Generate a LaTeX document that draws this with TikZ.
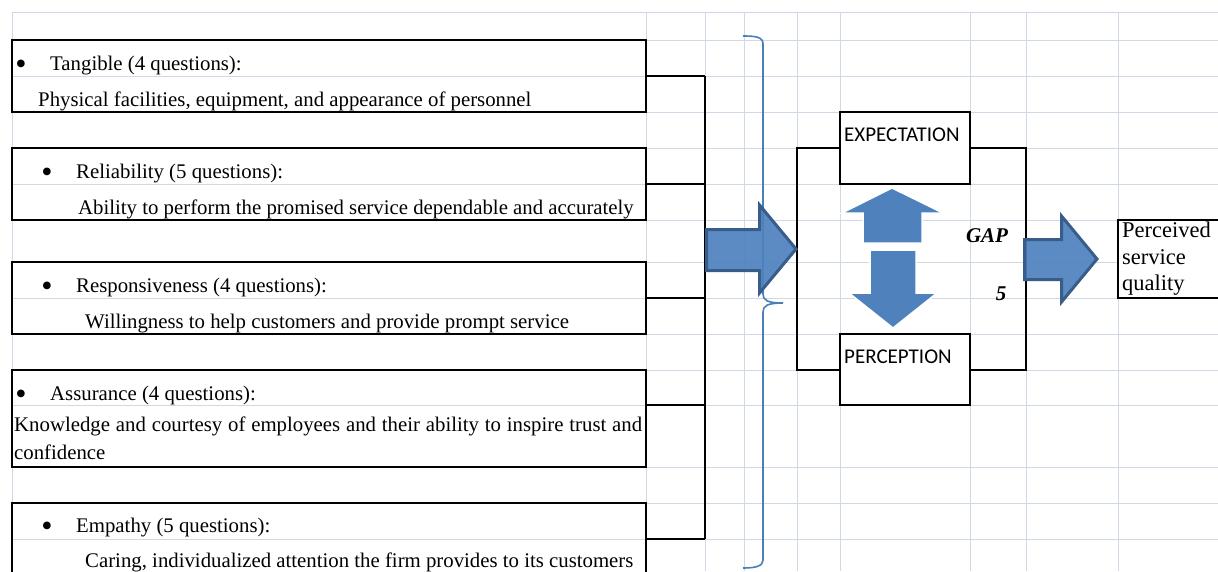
\documentclass[tikz,border=0pt]{standalone}
\usepackage{fontspec}
\setmainfont{Liberation Serif}
\newfontfamily\calib{Carlito}
\definecolor{gridc}{HTML}{D0D7E5}
\definecolor{afill}{HTML}{4F81BD}
\definecolor{aedge}{HTML}{385D8A}
\definecolor{brc}{HTML}{4A7EBB}
\begin{document}
\begin{tikzpicture}[x=1pt,y=-1pt,
  gridln/.style={draw=gridc, line width=1pt},
  bx/.style={draw=black, line width=1.3pt, inner sep=0pt, outer sep=0pt},
  conn/.style={draw=black, line width=1.3pt},
  txt/.style={anchor=base west, inner sep=0pt, font=\fontsize{20.8}{24}\selectfont},
  bul/.style={anchor=center, inner sep=0pt, font=\fontsize{32}{36}\selectfont},
  lbl/.style={anchor=west, inner sep=0pt, font=\calib\fontsize{21}{24}\selectfont},
  bigarrow/.style={fill=afill, fill opacity=0.92, draw=aedge, line width=3pt, line join=miter},
  gaparrow/.style={fill=afill, draw=white, line width=1.5pt, line join=miter},
  pqtxt/.style={anchor=base west, inner sep=0pt, font=\fontsize{22.5}{27}\selectfont},
  gaptxt/.style={inner sep=0pt, font=\bfseries\itshape\fontsize{21}{24}\selectfont}]
\useasboundingbox (0,0) rectangle (1218,571);
\fill[white] (0,0) rectangle (1218,571);
% spreadsheet grid
\foreach \y in {12,40,76,112,148,184,220,262,298,334,370,405,467,503,539}
  \draw[gridln] (12,\y) -- (1218,\y);
\foreach \x in {12,646,705,744,797,840,970,1026,1118}
  \draw[gridln] (\x,12) -- (\x,571);
% left boxes
\node[bx, minimum width=634pt, minimum height=72pt] (tang) at (329,76) {};
\node[bx, minimum width=634pt, minimum height=72pt] (reli) at (329,184) {};
\node[bx, minimum width=634pt, minimum height=72pt] (resp) at (329,298) {};
\node[bx, minimum width=634pt, minimum height=97pt] (assu) at (329,418.5) {};
\node[bx, minimum width=634pt, minimum height=72pt] (empa) at (329,539) {};
% texts
\node[bul] (b1) at (21,67.5) {\textbullet};
\node[txt] (t1a) at (50,70) {Tangible (4 questions):};
\node[txt] (t1b) at (38,106) {Physical facilities, equipment, and appearance of personnel};
\node[bul] (b2) at (47,175.5) {\textbullet};
\node[txt] (t2a) at (76,178) {Reliability (5 questions):};
\node[txt] (t2b) at (78,214) {Ability to perform the promised service dependable and accurately};
\node[bul] (b3) at (47,289.5) {\textbullet};
\node[txt] (t3a) at (76,292) {Responsiveness (4 questions):};
\node[txt] (t3b) at (85,328) {Willingness to help customers and provide prompt service};
\node[bul] (b4) at (21,397.5) {\textbullet};
\node[txt] (t4a) at (50,400) {Assurance (4 questions):};
\node[txt] (t4b) at (14,431) {\makebox[628pt][s]{Knowledge and courtesy of employees and their ability to inspire trust and}};
\node[txt] (t4c) at (14,459) {confidence};
\node[bul] (b5) at (47,529.5) {\textbullet};
\node[txt] (t5a) at (76,532) {Empathy (5 questions):};
\node[txt] (t5b) at (85,567) {Caring, individualized attention the firm provides to its customers};
% connectors
\coordinate (j1) at (705,76);
\coordinate (j2) at (705,184);
\coordinate (j3) at (705,298);
\coordinate (j4) at (705,405);
\coordinate (j5) at (705,539);
\draw[conn] (tang.east) -- (j1);
\draw[conn] (reli.east) -- (j2);
\draw[conn] (resp.east) -- (j3);
\draw[conn] (assu.east |- j4) -- (j4);
\draw[conn] (empa.east) -- (j5);
\draw[conn] (j1) -- (j5);
% brace
\draw[brc, line width=1.6pt] (743,36) .. controls (756,36) and (763,37) .. (763,44) -- (763,294)
  .. controls (763,300) and (767,303) .. (783,303) .. controls (767,303) and (763,306) .. (763,312)
  -- (763,560) .. controls (763,566) and (756,568) .. (743,568);
% gap box
\node[bx, minimum width=229pt, minimum height=222pt] (gapbox) at (911.5,259) {};
\node[bx, fill=white, minimum width=130pt, minimum height=72pt] (expb) at (905,148) {};
\node[bx, fill=white, minimum width=130pt, minimum height=71pt] (perb) at (905,369.5) {};
\node[lbl] (expt) at (844,135) {EXPECTATION};
\node[lbl] (pert) at (844,357) {PERCEPTION};
% arrows
\filldraw[bigarrow] (706.5,229.5) -- (759.5,229.5) -- (759.5,205) -- (796,249) -- (759.5,293) -- (759.5,270.5) -- (706.5,270.5) -- cycle;
\filldraw[gaparrow] (892,188) -- (943,213) -- (922,213) -- (922,243) -- (863,243) -- (863,213) -- (842,213) -- cycle;
\filldraw[gaparrow] (870,250) -- (916,250) -- (916,293) -- (937,293) -- (893,328) -- (849,293) -- (870,293) -- cycle;
\node[gaptxt] (gap) at (987,236) {GAP};
\node[gaptxt] (g5) at (1001,294) {5};
\filldraw[bigarrow] (1024.5,239.5) -- (1061.5,239.5) -- (1061.5,216) -- (1097,259) -- (1061.5,302) -- (1061.5,279.5) -- (1024.5,279.5) -- cycle;
% perceived service quality
\node[bx, fill=white, minimum width=120pt, minimum height=78pt] (pq) at (1178,259) {};
\node[pqtxt] (pq1) at (1122,237) {Perceived};
\node[pqtxt] (pq2) at (1122,264) {service};
\node[pqtxt] (pq3) at (1122,290) {quality};
\end{tikzpicture}
\end{document}
